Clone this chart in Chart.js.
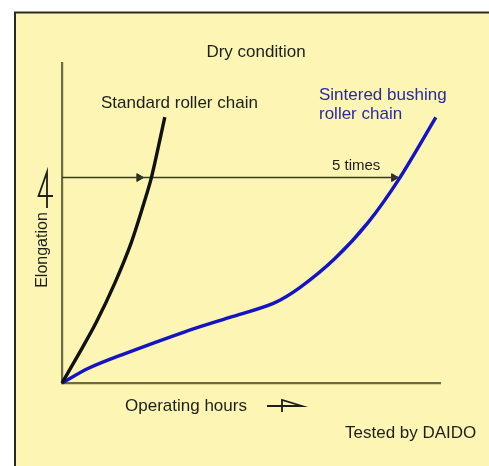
<!DOCTYPE html>
<html>
<head>
<meta charset="utf-8">
<script src="https://cdn.jsdelivr.net/npm/chart.js@4"></script>
<style>
  html, body { margin: 0; padding: 0; background: #fff; }
  canvas { display: block; }
</style>
</head>
<body>
<canvas id="wearChart" width="489" height="466"></canvas>
<script>
// Operating hours (x, 0-100) vs elongation (y, 0-100)
const standardHours = [0, 4.6, 9.0, 14.0, 18.3, 21.7, 23.7, 27.2];
const standardElong = [0, 9.4, 18.8, 31.3, 43.8, 56.3, 64.4, 83.1];

const sinteredHours = [0, 7.0, 15.8, 32.5, 44.4, 55.9, 63.0, 72.2, 81.0, 89.4, 98.9];
const sinteredElong = [0, 4.6, 8.8, 16.0, 20.5, 24.9, 29.9, 38.9, 50.2, 64.2, 83.0];

// "5 times" arrow: same elongation level, from the axis to the sintered curve
const arrowHours = [0, 89];
const arrowLevel = 64.2;
const arrowHeadHours = [20.4, 87.8];

const toPoints = (xs, ys) => xs.map((x, i) => ({ x: x, y: ys[i] }));

const FONT = '"Liberation Sans", Arial, Helvetica, sans-serif';
const YELLOW = "#fcf5b3";
const AXIS = "#6e6a42";

// Panel background and frame
const panelPlugin = {
  id: "panel",
  beforeDraw(chart) {
    const ctx = chart.ctx;
    ctx.save();
    ctx.fillStyle = "#ffffff";
    ctx.fillRect(0, 0, chart.width, chart.height);
    ctx.fillStyle = YELLOW;
    ctx.fillRect(15, 12, chart.width - 15, chart.height - 12);
    ctx.strokeStyle = "#2a2a22";
    ctx.lineWidth = 2;
    ctx.beginPath();
    ctx.moveTo(15, chart.height);
    ctx.lineTo(15, 12.5);
    ctx.lineTo(chart.width, 12.5);
    ctx.stroke();
    ctx.restore();
  }
};

// Labels and the little "4"-shaped axis arrows
const labelPlugin = {
  id: "labels",
  afterDraw(chart) {
    const ctx = chart.ctx;
    ctx.save();
    ctx.textBaseline = "middle";

    ctx.fillStyle = "#1e1e1a";
    ctx.font = "17px " + FONT;
    ctx.textAlign = "center";
    ctx.fillText("Dry condition", 256, 52);

    ctx.textAlign = "left";
    ctx.fillText("Standard roller chain", 101, 103);
    ctx.fillText("Operating hours", 125, 406);
    ctx.fillText("Tested by DAIDO", 345, 433);

    ctx.font = "15px " + FONT;
    ctx.fillText("5 times", 332, 166);

    ctx.fillStyle = "#2a2aa0";
    ctx.font = "17px " + FONT;
    ctx.fillText("Sintered bushing", 319, 95);
    ctx.fillText("roller chain", 319, 114);

    // y axis title
    ctx.fillStyle = "#1e1e1a";
    ctx.font = "16px " + FONT;
    ctx.translate(43, 250);
    ctx.rotate(-Math.PI / 2);
    ctx.textAlign = "center";
    ctx.fillText("Elongation", 0, 0);
    ctx.setTransform(1, 0, 0, 1, 0, 0);

    // upward "4" arrow
    ctx.strokeStyle = "#1e1e1a";
    ctx.lineWidth = 1.8;
    ctx.beginPath();
    ctx.moveTo(47, 208);
    ctx.lineTo(47, 172);
    ctx.lineTo(38.5, 196);
    ctx.lineTo(53, 196);
    ctx.stroke();

    // rightward "4" arrow
    ctx.beginPath();
    ctx.moveTo(267, 406);
    ctx.lineTo(302, 406);
    ctx.lineTo(282, 400);
    ctx.lineTo(282, 412);
    ctx.stroke();

    ctx.restore();
  }
};

new Chart(document.getElementById("wearChart"), {
  type: "scatter",
  data: {
    datasets: [
      {
        label: "Standard roller chain",
        data: toPoints(standardHours, standardElong),
        showLine: true,
        borderColor: "#111111",
        borderWidth: 3.4,
        pointRadius: 0,
        tension: 0.3,
        clip: false
      },
      {
        label: "Sintered bushing roller chain",
        data: toPoints(sinteredHours, sinteredElong),
        showLine: true,
        borderColor: "#1414c4",
        borderWidth: 3.4,
        pointRadius: 0,
        tension: 0.3,
        clip: false
      },
      {
        label: "5 times",
        data: arrowHours.map(x => ({ x: x, y: arrowLevel })),
        showLine: true,
        borderColor: "#3a3a2c",
        borderWidth: 1.5,
        pointRadius: 0,
        clip: false
      },
      {
        label: "arrow heads",
        data: arrowHeadHours.map(x => ({ x: x, y: arrowLevel })),
        showLine: false,
        pointStyle: "triangle",
        rotation: 90,
        pointRadius: 4.5,
        backgroundColor: "#2a2a20",
        borderColor: "#2a2a20",
        borderWidth: 1,
        clip: false
      }
    ]
  },
  options: {
    responsive: false,
    animation: false,
    devicePixelRatio: 1,
    layout: { padding: { left: 62, right: 49, top: 63, bottom: 83 } },
    plugins: { legend: { display: false }, tooltip: { enabled: false } },
    scales: {
      x: {
        type: "linear", min: 0, max: 100,
        grid: { display: false, drawTicks: false },
        ticks: { display: false },
        border: { display: true, color: AXIS, width: 2.2 }
      },
      y: {
        type: "linear", min: 0, max: 100,
        grid: { display: false, drawTicks: false },
        ticks: { display: false },
        border: { display: true, color: AXIS, width: 2.2 }
      }
    }
  },
  plugins: [panelPlugin, labelPlugin]
});
</script>
</body>
</html>
